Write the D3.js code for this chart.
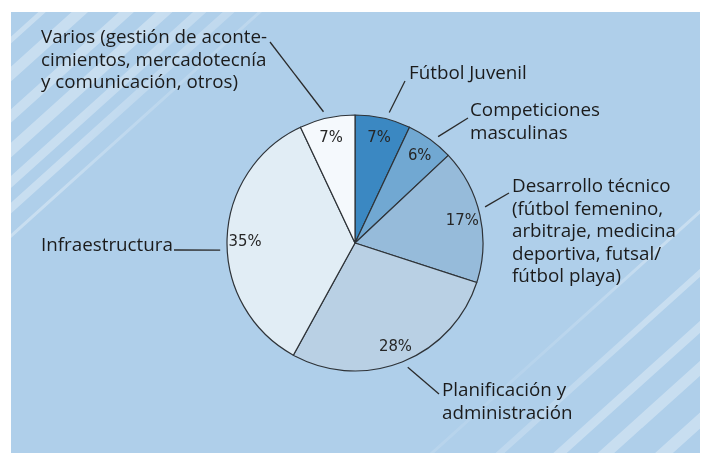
<!DOCTYPE html>
<html>
<meta charset="utf-8">
<style>
    body {
        margin: 0;
        background: #fff;
    }

    .label {
        font-family: 'Open Sans', sans-serif;
        font-size: 18.8px;
        fill: #1b1b1b;
    }

    .pct {
        font-family: 'Liberation Sans Narrow', 'DejaVu Sans Condensed', sans-serif;
        font-size: 16.5px;
        fill: #262626;
    }
</style>

<body>
    <svg id="chart" width="704" height="454"></svg>
    <script src="https://d3js.org/d3.v7.min.js"></script>
    <script>

        // data
        const categories = ["Fútbol Juvenil", "Competiciones masculinas", "Desarrollo técnico",
            "Planificación y administración", "Infraestructura", "Varios"];
        const values = [7, 6, 17, 28, 35, 7];
        const labelLines = [
            ["Fútbol Juvenil"],
            ["Competiciones", "masculinas"],
            ["Desarrollo técnico", "(fútbol femenino,", "arbitraje, medicina", "deportiva, futsal/", "fútbol playa)"],
            ["Planificación y", "administración"],
            ["Infraestructura"],
            ["Varios (gestión de aconte-", "cimientos, mercadotecnía", "y comunicación, otros)"]
        ];
        const colors = ["#3b88c2", "#71a8d2", "#96bbda", "#b9d0e4", "#e1edf5", "#f5f9fd"];

        // where each text block sits, where its leader starts (angle in degrees) and ends
        const labelLayout = [
            { x: 409, y: 79, a: 14.7, ex: 405, ey: 81 },
            { x: 470, y: 116, a: 38, ex: 468, ey: 118 },
            { x: 512, y: 192, a: 74.5, ex: 509, ey: 193 },
            { x: 442, y: 396, a: 157, ex: 439, ey: 394 },
            { x: 41, y: 251, a: 267, ex: 174, ey: 250 },
            { x: 41, y: 43, a: 346.5, ex: 270, ey: 42 }
        ];

        const chart = d3.select("#chart");
        const panel = { x: 11, y: 12, w: 689, h: 441 };
        const cx = 355, cy = 243, radius = 128;
        const lineGap = 22.5;

        // background panel
        const defs = chart.append("defs");
        defs.append("clipPath").attr("id", "panelClip")
            .append("rect")
            .attr("x", panel.x).attr("y", panel.y)
            .attr("width", panel.w).attr("height", panel.h);

        chart.append("rect")
            .attr("x", panel.x).attr("y", panel.y)
            .attr("width", panel.w).attr("height", panel.h)
            .attr("fill", "#afcfea");

        // decorative diagonal stripes, fading towards the pie
        const rg = defs.append("radialGradient").attr("id", "fade")
            .attr("gradientUnits", "userSpaceOnUse")
            .attr("cx", cx).attr("cy", cy).attr("r", 420);
        rg.append("stop").attr("offset", "0.40").attr("stop-color", "#fff").attr("stop-opacity", 0);
        rg.append("stop").attr("offset", "0.72").attr("stop-color", "#fff").attr("stop-opacity", 1);
        rg.append("stop").attr("offset", "1").attr("stop-color", "#fff").attr("stop-opacity", 1);
        defs.append("mask").attr("id", "fadeMask")
            .attr("maskUnits", "userSpaceOnUse")
            .attr("x", 0).attr("y", 0).attr("width", 704).attr("height", 454)
            .append("rect")
            .attr("x", 0).attr("y", 0).attr("width", 704).attr("height", 454)
            .attr("fill", "url(#fade)");

        const stripeAngle = -42;
        // top-left stripes: crossing the left edge at y
        const stripesTL = [
            { y: 40, w: 5 }, { y: 74, w: 11 }, { y: 116, w: 10 },
            { y: 150, w: 11 }, { y: 182, w: 9 }, { y: 208, w: 8 }, { y: 236, w: 3 }
        ];
        // bottom-right stripes: crossing the bottom edge at x
        const stripesBR = [
            { x: 432, w: 3 }, { x: 500, w: 6 }, { x: 560, w: 9 },
            { x: 606, w: 11 }, { x: 664, w: 12 }, { x: 724, w: 10 }
        ];
        const stripeG = chart.append("g")
            .attr("clip-path", "url(#panelClip)")
            .append("g")
            .attr("mask", "url(#fadeMask)")
            .attr("opacity", 0.32);
        stripeG.selectAll(".tl").data(stripesTL).enter()
            .append("rect")
            .attr("x", -400).attr("y", d => -d.w / 2)
            .attr("width", 800).attr("height", d => d.w)
            .attr("transform", d => `translate(${panel.x},${d.y}) rotate(${stripeAngle})`)
            .attr("fill", "#fff");
        stripeG.selectAll(".br").data(stripesBR).enter()
            .append("rect")
            .attr("x", -400).attr("y", d => -d.w / 2)
            .attr("width", 800).attr("height", d => d.w)
            .attr("transform", d => `translate(${d.x},${panel.y + panel.h}) rotate(${stripeAngle})`)
            .attr("fill", "#fff");

        // pie
        const pie = d3.pie().sort(null).value(d => d)(values);
        const arc = d3.arc().innerRadius(0).outerRadius(radius);
        const pctArc = d3.arc().innerRadius(110).outerRadius(110);
        const leaderR = radius + 7;

        const g = chart.append("g").attr("transform", `translate(${cx},${cy})`);

        g.selectAll("path")
            .data(pie)
            .enter()
            .append("path")
            .attr("d", arc)
            .attr("fill", (d, i) => colors[i])
            .attr("stroke", "#2e3338")
            .attr("stroke-width", 1.2)
            .attr("stroke-linejoin", "round");

        g.selectAll(".pct")
            .data(pie)
            .enter()
            .append("text")
            .attr("class", "pct")
            .attr("x", d => pctArc.centroid(d)[0])
            .attr("y", d => pctArc.centroid(d)[1])
            .attr("dy", "0.36em")
            .attr("text-anchor", "middle")
            .text(d => d.data + "%");

        // leader lines
        chart.append("g").selectAll("line")
            .data(labelLayout)
            .enter()
            .append("line")
            .attr("x1", d => cx + leaderR * Math.sin(d.a * Math.PI / 180))
            .attr("y1", d => cy - leaderR * Math.cos(d.a * Math.PI / 180))
            .attr("x2", d => d.ex)
            .attr("y2", d => d.ey)
            .attr("stroke", "#2a2a2a")
            .attr("stroke-width", 1.3);

        // category labels
        const labels = chart.append("g").selectAll("text")
            .data(categories)
            .enter()
            .append("text")
            .attr("class", "label")
            .attr("x", (d, i) => labelLayout[i].x)
            .attr("y", (d, i) => labelLayout[i].y);

        labels.selectAll("tspan")
            .data((d, i) => labelLines[i].map(t => ({ t, i })))
            .enter()
            .append("tspan")
            .attr("x", d => labelLayout[d.i].x)
            .attr("dy", (d, j) => j === 0 ? 0 : lineGap)
            .text(d => d.t);

    </script>
</body>

</html>
